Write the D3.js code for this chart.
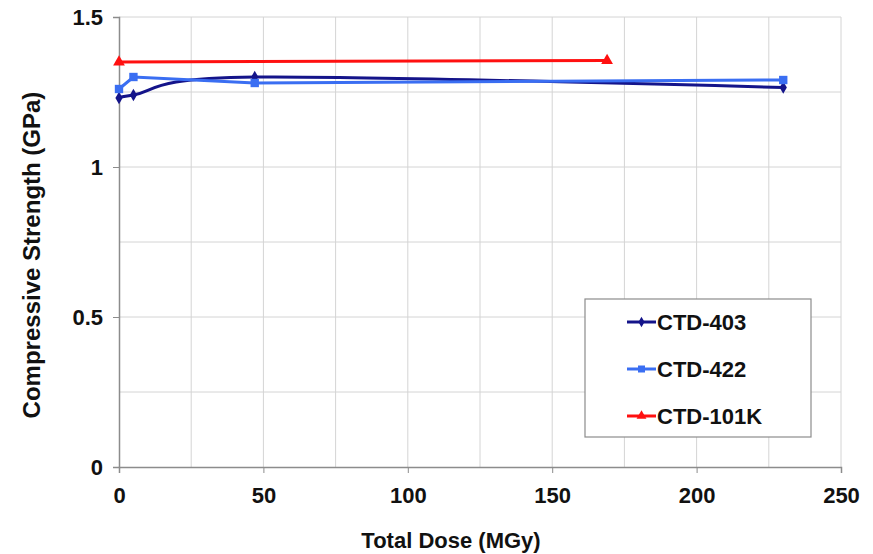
<!doctype html>
<html>
<head>
    <meta charset="utf-8" />
    <title>Compressive Strength vs Total Dose</title>
    <style>
        body { margin: 0; background: #fff; }
        svg text { font-family: Arial, "Liberation Sans", sans-serif; font-weight: bold; fill: #111; }
        .grid line { stroke: #d4d4d4; stroke-width: 1; }
    </style>
</head>
<body>
    <div id="chart"></div>

    <script src="https://cdn.jsdelivr.net/npm/d3@7"></script>
    <script>
        // values
        var seriesNames = ["CTD-403", "CTD-422", "CTD-101K"];
        var dose403 = [0, 5, 47, 230];
        var str403 = [1.23, 1.24, 1.30, 1.265];
        var dose422 = [0, 5, 47, 230];
        var str422 = [1.26, 1.30, 1.28, 1.29];
        var dose101K = [0, 169];
        var str101K = [1.35, 1.355];
        var xTicks = [0, 50, 100, 150, 200, 250];
        var yTicks = [0, 0.5, 1, 1.5];

        var w = 873, h = 554;
        var svg = d3.select("#chart").append("svg").attr("width", w).attr("height", h);

        var x = d3.scaleLinear().domain([0, 250]).range([119, 841]);
        var y = d3.scaleLinear().domain([0, 1.5]).range([467, 17]);

        // grid
        var grid = svg.append("g").attr("class", "grid");
        grid.selectAll(".vx").data(d3.range(25, 251, 25)).enter().append("line")
            .attr("x1", function(d) { return x(d); }).attr("x2", function(d) { return x(d); })
            .attr("y1", y(0)).attr("y2", y(1.5));
        grid.selectAll(".hy").data(d3.range(0.25, 1.51, 0.25)).enter().append("line")
            .attr("x1", x(0)).attr("x2", x(250))
            .attr("y1", function(d) { return y(d); }).attr("y2", function(d) { return y(d); });

        // axes
        var xAxis = svg.append("g").attr("transform", "translate(0," + y(0) + ")")
            .call(d3.axisBottom(x).tickValues(xTicks).tickSize(6).tickPadding(14).tickFormat(d3.format("d")));
        var yAxis = svg.append("g").attr("transform", "translate(" + x(0) + ",0)")
            .call(d3.axisLeft(y).tickValues(yTicks).tickSize(6).tickPadding(10).tickFormat(function(d) { return String(d); }));
        [xAxis, yAxis].forEach(function(a) {
            a.select(".domain").attr("stroke", "#8c8c8c").attr("stroke-width", 1.5);
            a.selectAll(".tick line").attr("stroke", "#8c8c8c");
            a.selectAll(".tick text").style("font-size", "22px").attr("fill", "#111");
        });
        yAxis.selectAll(".tick text").attr("dy", "0.35em");

        // axis titles
        svg.append("text").attr("x", 451).attr("y", 548).attr("text-anchor", "middle")
            .style("font-size", "22px").text("Total Dose (MGy)");
        svg.append("text").attr("transform", "translate(40,255) rotate(-90)").attr("text-anchor", "middle")
            .style("font-size", "24px").text("Compressive Strength (GPa)");

        var colors = ["#14148a", "#3a6ef2", "#ff1010"];
        var series = [
            { name: seriesNames[0], dose: dose403, str: str403, color: colors[0], marker: d3.symbolDiamond, size: 45, smooth: true },
            { name: seriesNames[1], dose: dose422, str: str422, color: colors[1], marker: d3.symbolSquare, size: 70, smooth: false },
            { name: seriesNames[2], dose: dose101K, str: str101K, color: colors[2], marker: d3.symbolTriangle, size: 60, smooth: false }
        ];

        series.forEach(function(s) {
            var pts = s.dose.map(function(d, i) { return [d, s.str[i]]; });
            var line = d3.line()
                .x(function(p) { return x(p[0]); })
                .y(function(p) { return y(p[1]); })
                .curve(s.smooth ? d3.curveCatmullRom.alpha(0) : d3.curveLinear);
            svg.append("path").datum(pts).attr("d", line)
                .attr("fill", "none").attr("stroke", s.color).attr("stroke-width", 3);
            svg.selectAll(null).data(pts).enter().append("path")
                .attr("d", d3.symbol().type(s.marker).size(s.size))
                .attr("transform", function(p) { return "translate(" + x(p[0]) + "," + y(p[1]) + ")"; })
                .attr("fill", s.color);
        });

        // legend
        var lg = svg.append("g");
        lg.append("rect").attr("x", 585).attr("y", 299).attr("width", 226).attr("height", 138)
            .attr("fill", "#fff").attr("stroke", "#8c8c8c").attr("stroke-width", 1.2);
        series.forEach(function(s, i) {
            var cy = 322 + i * 47;
            lg.append("line").attr("x1", 627).attr("x2", 656).attr("y1", cy).attr("y2", cy)
                .attr("stroke", s.color).attr("stroke-width", 3);
            lg.append("path").attr("d", d3.symbol().type(s.marker).size(s.size * 0.7))
                .attr("transform", "translate(641.5," + cy + ")").attr("fill", s.color);
            lg.append("text").attr("x", 657).attr("y", cy).attr("dy", "0.36em")
                .style("font-size", "22px").text(s.name);
        });
    </script>
</body>
</html>
